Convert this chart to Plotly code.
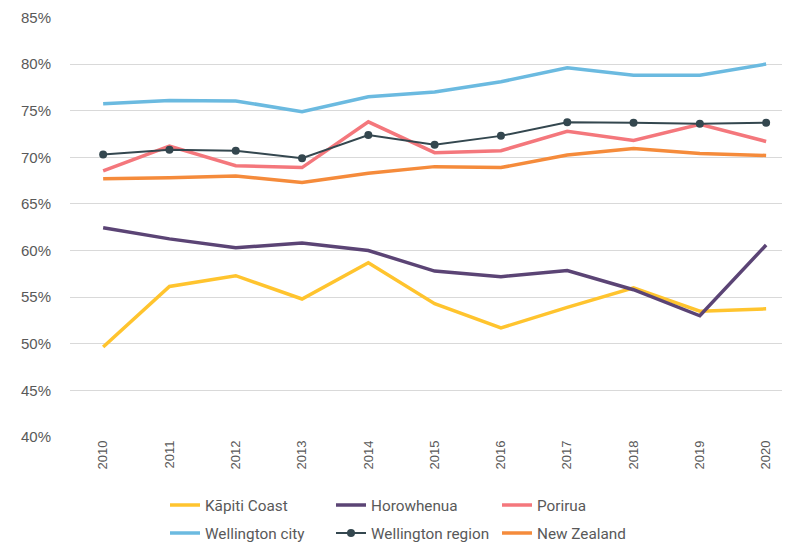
import plotly.graph_objects as go

years = [2010, 2011, 2012, 2013, 2014, 2015, 2016, 2017, 2018, 2019, 2020]
kapiti = [49.65, 56.15, 57.3, 54.8, 58.7, 54.3, 51.7, 53.9, 56.0, 53.5, 53.75]
horowhenua = [62.45, 61.25, 60.3, 60.8, 60.0, 57.8, 57.2, 57.85, 55.8, 53.0, 60.6]
porirua = [68.55, 71.2, 69.1, 68.9, 73.8, 70.5, 70.7, 72.8, 71.8, 73.55, 71.7]
wellington_city = [75.74, 76.1, 76.05, 74.9, 76.5, 77.0, 78.1, 79.6, 78.8, 78.8, 80.0]
wellington_region = [70.3, 70.8, 70.7, 69.9, 72.4, 71.35, 72.3, 73.75, 73.7, 73.6, 73.7]
new_zealand = [67.7, 67.8, 68.0, 67.3, 68.3, 69.0, 68.9, 70.25, 70.95, 70.4, 70.2]
y_ticks = [40, 45, 50, 55, 60, 65, 70, 75, 80, 85]

legend_font = "Roboto, Arial, sans-serif"
tick_font = "Liberation Sans, Arial, sans-serif"
grey = "#595959"

W, H = 782, 534  # page body has an 8px margin

fig = go.Figure()
series = [
    ("Kāpiti Coast", kapiti, "#FFC42E", "legend"),
    ("Horowhenua", horowhenua, "#5B4475", "legend"),
    ("Porirua", porirua, "#F4777C", "legend"),
    ("Wellington city", wellington_city, "#6BBAE0", "legend2"),
]
for name, vals, col, lg in series:
    fig.add_trace(go.Scatter(x=years, y=vals, name=name, mode="lines",
                             line=dict(color=col, width=3.5), legend=lg))
fig.add_trace(go.Scatter(x=years, y=wellington_region, name="Wellington region",
                         mode="lines+markers", line=dict(color="#34474F", width=2),
                         marker=dict(size=8, color="#34474F"), legend="legend2"))
fig.add_trace(go.Scatter(x=years, y=new_zealand, name="New Zealand", mode="lines",
                         line=dict(color="#F58B3B", width=3.5), legend="legend2"))

leg_common = dict(orientation="h", xanchor="left", yanchor="middle",
                  xref="container", yref="container",
                  font=dict(family=legend_font, size=15.3, color=grey),
                  bgcolor="rgba(0,0,0,0)", entrywidth=121, entrywidthmode="pixels",
                  tracegroupgap=0)

fig.update_layout(
    width=W, height=H,
    margin=dict(l=62, r=0, t=9, b=105, autoexpand=False),
    plot_bgcolor="white", paper_bgcolor="white",
    font=dict(family=tick_font, color=grey, size=14),
    showlegend=True,
    legend=dict(x=157 / W, y=1 - 497 / H, **leg_common),
    legend2=dict(x=157 / W, y=1 - 525 / H, **leg_common),
    xaxis=dict(tickmode="array", tickvals=years, ticktext=[str(y) for y in years],
               tickangle=-90, showgrid=False, zeroline=False, showline=False,
               range=[2009.5, 2020.36], tickfont=dict(family=tick_font, size=13, color=grey),
               ticks=""),
    yaxis=dict(tickmode="array", tickvals=y_ticks, ticktext=[f"{v}%" for v in y_ticks],
               range=[40, 85.05], showgrid=True, gridcolor="#D9D9D9", gridwidth=1,
               zeroline=False, showline=False, ticklabeloverflow="allow",
               tickfont=dict(family=tick_font, size=15, color=grey),
               ticklabelstandoff=18),
)

fig.write_html("out.html")
